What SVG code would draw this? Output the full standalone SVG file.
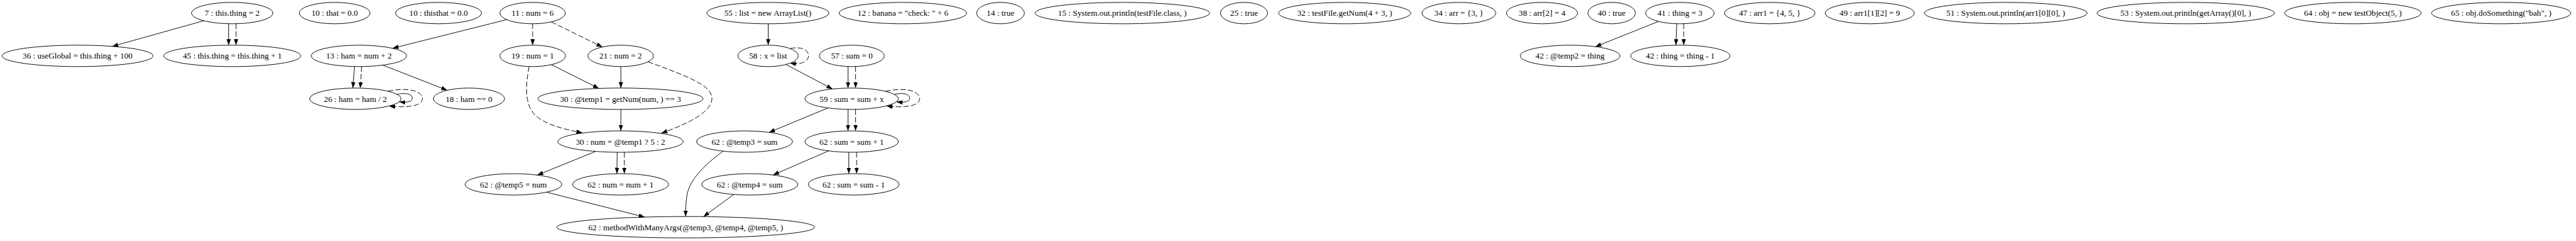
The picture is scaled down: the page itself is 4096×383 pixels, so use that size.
<svg xmlns="http://www.w3.org/2000/svg" width="4096" height="383" viewBox="0 0 4096 383">
<defs>
<style>
.node ellipse { fill: none; stroke: #000; stroke-width: 0.95; }
.node text { font-family: "Liberation Serif", "Times New Roman", serif; font-size: 13.23px; text-anchor: middle; fill: #000; }
.edge { fill: none; stroke: #000; stroke-width: 0.95; marker-end: url(#ah); }
.dash { stroke-dasharray: 8.5 3.5; }
</style>
<marker id="ah" markerUnits="userSpaceOnUse" markerWidth="9.5" markerHeight="7" viewBox="0 0 9.5 7" refX="9.5" refY="3.5" orient="auto">
<path d="M0,0 L9.5,3.5 L0,7 z" fill="#000"/>
</marker>
</defs>
<rect x="0" y="0" width="4096" height="383" fill="#fff"/>
<g id="edges">
<path class="edge" d="M323.9,33.0 L178.4,73.7"/>
<path class="edge" d="M363.6,37.7 L363.6,71.8"/>
<path class="edge dash" d="M375.3,37.7 L375.3,71.8"/>
<path class="edge" d="M805.6,31.2 L624.2,76.7"/>
<path class="edge dash" d="M846.9,37.8 L846.9,71.8"/>
<path class="edge dash" d="M876.5,34.8 L957.9,74.7"/>
<path class="edge" d="M563.7,105.7 L561.1,140.0"/>
<path class="edge dash" d="M575.1,105.6 L572.8,140.2"/>
<path class="edge" d="M608.6,103.5 L711.1,143.4"/>
<path class="edge" d="M631.6,150.0 C647.5,146 657.5,151 655.5,157.5 C653.5,162.5 645.5,163 634.8,161.8"/>
<path class="edge dash" d="M616.8,144.9 C650,138 671.8,145 671.6,157 C671.3,168 650,172 618.7,168.4"/>
<path class="edge" d="M876.8,102.8 L952.4,140.5"/>
<path class="edge dash" d="M841.4,105.8 C835.5,135 834,165 850,182 C866,198 895,205 926,211"/>
<path class="edge" d="M987.2,105.8 L987.2,139.9"/>
<path class="edge dash" d="M1030.4,98.2 C1070,113 1115,128 1128,145 C1140,162 1128,185 1051.7,211.5"/>
<path class="edge" d="M987.2,173.9 L987.2,208.0"/>
<path class="edge" d="M947.2,240.6 L854.3,278.2"/>
<path class="edge" d="M981.3,242.0 L981.0,276.0"/>
<path class="edge dash" d="M992.7,242.0 L992.7,276.0"/>
<path class="edge" d="M869.0,305.4 L1025.1,345.0"/>
<path class="edge" d="M1149.5,240.3 C1118,264 1096,286 1092,312 C1090.5,323 1090.2,334 1090.2,344.1"/>
<path class="edge" d="M1166.8,309.0 L1118.5,344.3"/>
<path class="edge" d="M1221.5,37.8 L1221.5,71.8"/>
<path class="edge dash" d="M1256.3,77.2 C1275,73 1286,80 1285.6,88.8 C1285,98 1275,103 1256.3,100.4"/>
<path class="edge" d="M1249.7,102.5 L1323.7,141.4"/>
<path class="edge" d="M1348.4,105.6 L1348.4,140.0"/>
<path class="edge dash" d="M1360.4,105.6 L1360.4,140.0"/>
<path class="edge" d="M1422.3,150.1 C1438.2,146 1448.2,151 1446.2,157.5 C1444.2,162.5 1436.2,163 1425.5,161.8"/>
<path class="edge dash" d="M1407.7,145.1 C1441,138 1462.5,145 1462.3,157 C1462,168 1441,172 1409.6,168.4"/>
<path class="edge" d="M1316.5,171.6 L1222.7,210.4"/>
<path class="edge" d="M1348.4,173.9 L1348.4,208.0"/>
<path class="edge dash" d="M1360.4,173.9 L1360.4,208.0"/>
<path class="edge" d="M1317.5,239.8 L1229.3,278.1"/>
<path class="edge" d="M1349.7,242.0 L1349.7,276.0"/>
<path class="edge dash" d="M1362.1,242.0 L1362.1,276.0"/>
<path class="edge" d="M2637.1,34.1 L2536.8,74.2"/>
<path class="edge" d="M2666.1,37.8 L2664.8,71.8"/>
<path class="edge dash" d="M2677.2,37.8 L2677.2,71.8"/>
</g>
<g id="n7" class="node"><ellipse cx="369.2" cy="20.8" rx="64.8" ry="17"/><text x="369.2" y="25.4">7 : this.thing = 2</text></g>
<g id="n10a" class="node"><ellipse cx="532.2" cy="20.8" rx="56.3" ry="17"/><text x="532.2" y="25.4">10 : that = 0.0</text></g>
<g id="n10b" class="node"><ellipse cx="697.3" cy="20.8" rx="68.5" ry="17"/><text x="697.3" y="25.4">10 : thisthat = 0.0</text></g>
<g id="n11" class="node"><ellipse cx="846.9" cy="20.8" rx="52.1" ry="17"/><text x="846.9" y="25.4">11 : num = 6</text></g>
<g id="n55" class="node"><ellipse cx="1220.9" cy="20.8" rx="97.1" ry="17"/><text x="1220.9" y="25.4">55 : list = new ArrayList()</text></g>
<g id="n12" class="node"><ellipse cx="1435.7" cy="20.8" rx="101.4" ry="17"/><text x="1435.7" y="25.4">12 : banana = "check: " + 6</text></g>
<g id="n14" class="node"><ellipse cx="1590.9" cy="20.8" rx="37.9" ry="17"/><text x="1590.9" y="25.4">14 : true</text></g>
<g id="n15" class="node"><ellipse cx="1784.6" cy="20.8" rx="138.8" ry="17"/><text x="1784.6" y="25.4">15 : System.out.println(testFile.class, )</text></g>
<g id="n25" class="node"><ellipse cx="1978.1" cy="20.8" rx="37.4" ry="17"/><text x="1978.1" y="25.4">25 : true</text></g>
<g id="n32" class="node"><ellipse cx="2138.2" cy="20.8" rx="105.1" ry="17"/><text x="2138.2" y="25.4">32 : testFile.getNum(4 + 3, )</text></g>
<g id="n34" class="node"><ellipse cx="2319.7" cy="20.8" rx="58.8" ry="17"/><text x="2319.7" y="25.4">34 : arr = {3, }</text></g>
<g id="n38" class="node"><ellipse cx="2451.9" cy="20.8" rx="56.6" ry="17"/><text x="2451.9" y="25.4">38 : arr[2] = 4</text></g>
<g id="n40" class="node"><ellipse cx="2562.6" cy="20.8" rx="37.8" ry="17"/><text x="2562.6" y="25.4">40 : true</text></g>
<g id="n41" class="node"><ellipse cx="2671.1" cy="20.8" rx="54.6" ry="17"/><text x="2671.1" y="25.4">41 : thing = 3</text></g>
<g id="n47" class="node"><ellipse cx="2814.0" cy="20.8" rx="72.1" ry="17"/><text x="2814.0" y="25.4">47 : arr1 = {4, 5, }</text></g>
<g id="n49" class="node"><ellipse cx="2973.0" cy="20.8" rx="70.9" ry="17"/><text x="2973.0" y="25.4">49 : arr1[1][2] = 9</text></g>
<g id="n51" class="node"><ellipse cx="3189.2" cy="20.8" rx="129.4" ry="17"/><text x="3189.2" y="25.4">51 : System.out.println(arr1[0][0], )</text></g>
<g id="n53" class="node"><ellipse cx="3475.4" cy="20.8" rx="141.1" ry="17"/><text x="3475.4" y="25.4">53 : System.out.println(getArray()[0], )</text></g>
<g id="n64" class="node"><ellipse cx="3741.3" cy="20.8" rx="108.6" ry="17"/><text x="3741.3" y="25.4">64 : obj = new testObject(5, )</text></g>
<g id="n65" class="node"><ellipse cx="3977.1" cy="20.8" rx="110.7" ry="17"/><text x="3977.1" y="25.4">65 : obj.doSomething("bah", )</text></g>
<g id="n36" class="node"><ellipse cx="123.4" cy="88.8" rx="120.1" ry="17"/><text x="123.4" y="93.4">36 : useGlobal = this.thing + 100</text></g>
<g id="n45" class="node"><ellipse cx="369.4" cy="88.8" rx="109.0" ry="17"/><text x="369.4" y="93.4">45 : this.thing = this.thing + 1</text></g>
<g id="n13" class="node"><ellipse cx="570.7" cy="88.8" rx="75.9" ry="17"/><text x="570.7" y="93.4">13 : ham = num + 2</text></g>
<g id="n19" class="node"><ellipse cx="847.0" cy="88.8" rx="52.3" ry="17"/><text x="847.0" y="93.4">19 : num = 1</text></g>
<g id="n21" class="node"><ellipse cx="986.9" cy="88.8" rx="52.2" ry="17"/><text x="986.9" y="93.4">21 : num = 2</text></g>
<g id="n58" class="node"><ellipse cx="1221.3" cy="88.8" rx="48.0" ry="17"/><text x="1221.3" y="93.4">58 : x = list</text></g>
<g id="n57" class="node"><ellipse cx="1354.5" cy="88.8" rx="51.6" ry="17"/><text x="1354.5" y="93.4">57 : sum = 0</text></g>
<g id="n42a" class="node"><ellipse cx="2496.5" cy="88.8" rx="79.3" ry="17"/><text x="2496.5" y="93.4">42 : @temp2 = thing</text></g>
<g id="n42b" class="node"><ellipse cx="2671.8" cy="88.8" rx="78.9" ry="17"/><text x="2671.8" y="93.4">42 : thing = thing - 1</text></g>
<g id="n26" class="node"><ellipse cx="565.1" cy="156.9" rx="72.8" ry="17"/><text x="565.1" y="161.5">26 : ham = ham / 2</text></g>
<g id="n18" class="node"><ellipse cx="745.7" cy="156.9" rx="56.6" ry="17"/><text x="745.7" y="161.5">18 : ham == 0</text></g>
<g id="n30a" class="node"><ellipse cx="986.6" cy="156.9" rx="131.3" ry="17"/><text x="986.6" y="161.5">30 : @temp1 = getNum(num, ) == 3</text></g>
<g id="n59" class="node"><ellipse cx="1354.2" cy="156.9" rx="74.4" ry="17"/><text x="1354.2" y="161.5">59 : sum = sum + x</text></g>
<g id="n30b" class="node"><ellipse cx="986.6" cy="225.0" rx="99.7" ry="17"/><text x="986.6" y="229.6">30 : num = @temp1 ? 5 : 2</text></g>
<g id="n62t3" class="node"><ellipse cx="1183.9" cy="225.0" rx="76.4" ry="17"/><text x="1183.9" y="229.6">62 : @temp3 = sum</text></g>
<g id="n62s1" class="node"><ellipse cx="1354.2" cy="225.0" rx="74.4" ry="17"/><text x="1354.2" y="229.6">62 : sum = sum + 1</text></g>
<g id="n62t5" class="node"><ellipse cx="816.4" cy="293.0" rx="77.0" ry="17"/><text x="816.4" y="297.6">62 : @temp5 = num</text></g>
<g id="n62n1" class="node"><ellipse cx="986.8" cy="293.0" rx="76.4" ry="17"/><text x="986.8" y="297.6">62 : num = num + 1</text></g>
<g id="n62t4" class="node"><ellipse cx="1192.2" cy="293.0" rx="76.5" ry="17"/><text x="1192.2" y="297.6">62 : @temp4 = sum</text></g>
<g id="n62s2" class="node"><ellipse cx="1357.4" cy="293.0" rx="72.3" ry="17"/><text x="1357.4" y="297.6">62 : sum = sum - 1</text></g>
<g id="n62m" class="node"><ellipse cx="1090.3" cy="361.1" rx="205.0" ry="17"/><text x="1090.3" y="365.7">62 : methodWithManyArgs(@temp3, @temp4, @temp5, )</text></g>
</svg>
